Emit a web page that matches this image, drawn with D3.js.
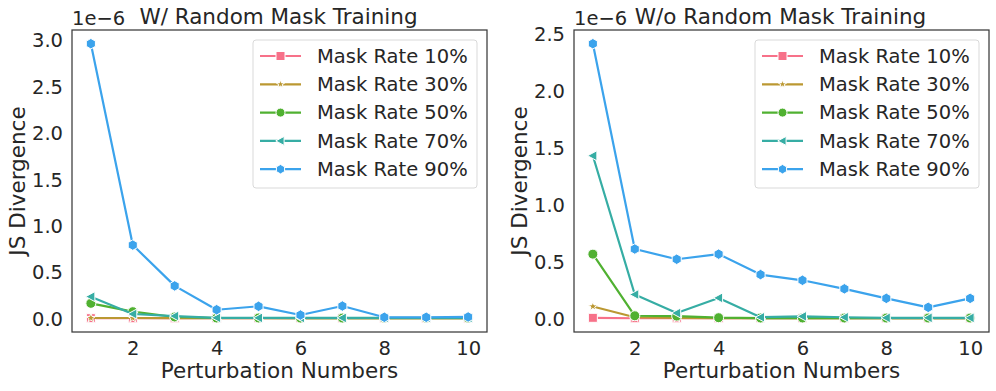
<!doctype html>
<html>
<head>
<meta charset="utf-8">
<script src="https://cdn.jsdelivr.net/npm/d3@7"></script>
<style>
  body { margin: 0; background: #fff; }
  svg { display: block; font-family: "DejaVu Sans", sans-serif; }
  .tick text { fill: #262626; }
</style>
</head>
<body>
<svg id="chart" width="996" height="391"></svg>
<script>
  // perturbation numbers on x
  var perturbations = [1, 2, 3, 4, 5, 6, 7, 8, 9, 10];
  var rateNames = ['Mask Rate 10%', 'Mask Rate 30%', 'Mask Rate 50%', 'Mask Rate 70%', 'Mask Rate 90%'];
  var rateColors = ['#f77189', '#bb9832', '#50b131', '#36ada4', '#3ba3ec'];
  var rateMarkers = ['square', 'star', 'circle', 'triLeft', 'hexagon'];

  // JS divergence, in units of 1e-6
  // with random mask training
  var withRate10 = [0.002, 0.001, 0.001, 0.001, 0.001, 0.001, 0.001, 0.001, 0.001, 0.001];
  var withRate30 = [0.004, 0.004, 0.003, 0.003, 0.003, 0.003, 0.003, 0.003, 0.003, 0.003];
  var withRate50 = [0.162, 0.072, 0.015, 0.004, 0.004, 0.003, 0.003, 0.003, 0.003, 0.003];
  var withRate70 = [0.234, 0.047, 0.025, 0.006, 0.005, 0.005, 0.005, 0.005, 0.005, 0.005];
  var withRate90 = [2.96, 0.79, 0.35, 0.093, 0.13, 0.036, 0.133, 0.012, 0.012, 0.015];
  // without random mask training
  var woRate10 = [0.005, 0.001, 0.001, 0.001, 0.001, 0.001, 0.001, 0.001, 0.001, 0.001];
  var woRate30 = [0.105, 0.01, 0.004, 0.003, 0.003, 0.003, 0.003, 0.003, 0.003, 0.003];
  var woRate50 = [0.565, 0.023, 0.02, 0.006, 0.003, 0.003, 0.003, 0.003, 0.003, 0.003];
  var woRate70 = [1.43, 0.21, 0.047, 0.18, 0.01, 0.018, 0.01, 0.005, 0.005, 0.005];
  var woRate90 = [2.415, 0.61, 0.52, 0.565, 0.385, 0.335, 0.26, 0.176, 0.097, 0.176];

  var xTicks = [2, 4, 6, 8, 10];
  var withYTicks = [0, 0.5, 1.0, 1.5, 2.0, 2.5, 3.0];
  var woYTicks = [0, 0.5, 1.0, 1.5, 2.0, 2.5];

  var panels = [
    { title: 'W/ Random Mask Training', series: [withRate10, withRate30, withRate50, withRate70, withRate90],
      yTicks: withYTicks, left: 72, right: 487, legendX: 253 },
    { title: 'W/o Random Mask Training', series: [woRate10, woRate30, woRate50, woRate70, woRate90],
      yTicks: woYTicks, left: 574, right: 989, legendX: 755 }
  ];

  var plotTop = 30, plotBottom = 332;
  var textColor = '#262626';

  function markerPath(kind, size) {
    var r = size / 2;
    if (kind === 'square') return d3.symbol(d3.symbolSquare, size * size)();
    if (kind === 'circle') return d3.symbol(d3.symbolCircle, Math.PI * r * r)();
    if (kind === 'star') return d3.symbol(d3.symbolStar, size * size * 0.35)();
    var pts = [];
    if (kind === 'triLeft') {
      pts = [[-r * 1.05, 0], [r * 0.8, -r], [r * 0.8, r]];
    } else {
      for (var i = 0; i < 6; i++) {
        var a = Math.PI / 2 + i * Math.PI / 3;
        pts.push([r * 1.05 * Math.cos(a), -r * 1.05 * Math.sin(a)]);
      }
    }
    return 'M' + pts.map(function (p) { return p.join(','); }).join('L') + 'Z';
  }
  var markerSize = { square: 9, star: 9, circle: 10, triLeft: 10, hexagon: 10 };

  var svg = d3.select('#chart');

  panels.forEach(function (p) {
    var all = d3.merge(p.series);
    var lo = d3.min(all), hi = d3.max(all), pad = (hi - lo) * 0.05;
    var x = d3.scaleLinear().domain([0.55, 10.45]).range([p.left, p.right]);
    var y = d3.scaleLinear().domain([lo - pad, hi + pad]).range([plotBottom, plotTop]);

    var g = svg.append('g');

    var xAxis = g.append('g')
      .attr('transform', 'translate(0,' + plotBottom + ')')
      .call(d3.axisBottom(x).tickValues(xTicks).tickSize(0).tickPadding(9).tickFormat(d3.format('d')));
    xAxis.select('.domain').remove();
    xAxis.selectAll('text').attr('font-size', 19.5).attr('font-family', 'DejaVu Sans');

    var yAxis = g.append('g')
      .attr('transform', 'translate(' + p.left + ',0)')
      .call(d3.axisLeft(y).tickValues(p.yTicks).tickSize(0).tickPadding(9).tickFormat(d3.format('.1f')));
    yAxis.select('.domain').remove();
    yAxis.selectAll('text').attr('font-size', 19.5).attr('font-family', 'DejaVu Sans').attr('dy', '0.35em');

    var line = d3.line()
      .x(function (d, i) { return x(perturbations[i]); })
      .y(function (d) { return y(d); });

    p.series.forEach(function (vals, k) {
      var sg = g.append('g');
      sg.append('path')
        .attr('d', line(vals))
        .attr('fill', 'none')
        .attr('stroke', rateColors[k])
        .attr('stroke-width', 2.2)
        .attr('stroke-linejoin', 'round');
      sg.selectAll('path.mk').data(vals).enter().append('path')
        .attr('class', 'mk')
        .attr('d', markerPath(rateMarkers[k], markerSize[rateMarkers[k]]))
        .attr('transform', function (d, i) { return 'translate(' + x(perturbations[i]) + ',' + y(d) + ')'; })
        .attr('fill', rateColors[k])
        .attr('stroke', '#fff')
        .attr('stroke-width', 1);
    });

    // frame
    g.append('rect')
      .attr('x', p.left).attr('y', plotTop)
      .attr('width', p.right - p.left).attr('height', plotBottom - plotTop)
      .attr('fill', 'none').attr('stroke', '#3a3a3a').attr('stroke-width', 1.25);

    // title and offset text
    g.append('text')
      .attr('x', (p.left + p.right) / 2 - 1).attr('y', 24)
      .attr('text-anchor', 'middle').attr('font-size', 21.5).attr('fill', textColor)
      .text(p.title);
    g.append('text')
      .attr('x', p.left).attr('y', 25)
      .attr('font-size', 19.5).attr('fill', textColor)
      .text('1e\u22126');

    // axis labels
    g.append('text')
      .attr('x', (p.left + p.right) / 2).attr('y', 378)
      .attr('text-anchor', 'middle').attr('font-size', 21.5).attr('fill', textColor)
      .text('Perturbation Numbers');
    g.append('text')
      .attr('transform', 'translate(' + (p.left - 47) + ',' + ((plotTop + plotBottom) / 2) + ') rotate(-90)')
      .attr('text-anchor', 'middle').attr('font-size', 21.5).attr('fill', textColor)
      .text('JS Divergence');

    // legend
    var lg = g.append('g').attr('transform', 'translate(' + p.legendX + ',40)');
    lg.append('rect')
      .attr('width', 224).attr('height', 148).attr('rx', 3)
      .attr('fill', '#fff').attr('fill-opacity', 0.8)
      .attr('stroke', '#d9d9d9').attr('stroke-width', 1);
    rateNames.forEach(function (name, k) {
      var cy = 16 + k * 28.3;
      lg.append('line')
        .attr('x1', 7).attr('x2', 48).attr('y1', cy).attr('y2', cy)
        .attr('stroke', rateColors[k]).attr('stroke-width', 2.2);
      var ms = rateMarkers[k] === 'star' ? 8 : 9;
      lg.append('path')
        .attr('d', markerPath(rateMarkers[k], ms))
        .attr('transform', 'translate(27.5,' + cy + ')')
        .attr('fill', rateColors[k]).attr('stroke', '#fff').attr('stroke-width', 1);
      lg.append('text')
        .attr('x', 64).attr('y', cy).attr('dy', '0.35em')
        .attr('font-size', 19.5).attr('fill', textColor)
        .text(name);
    });
  });
</script>
</body>
</html>
